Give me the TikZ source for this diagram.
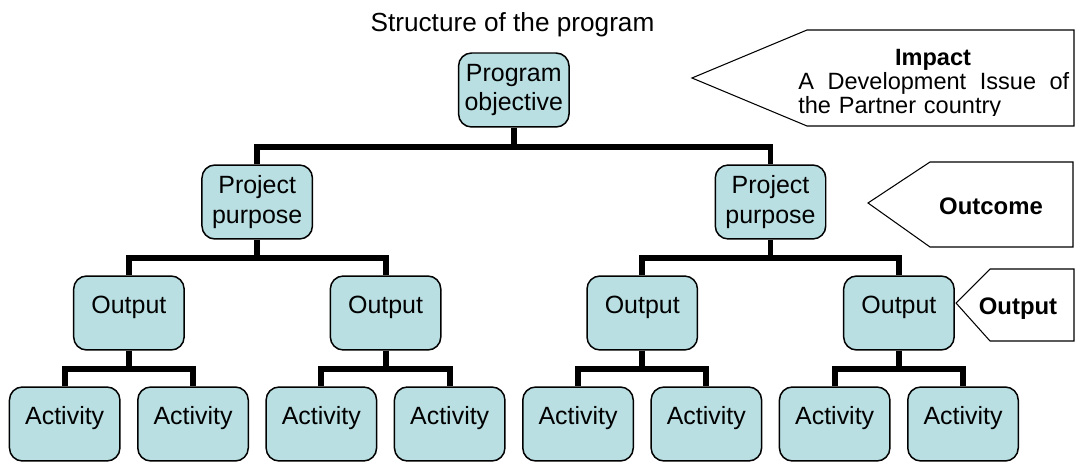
\documentclass[tikz,border=0pt]{standalone}
\usepackage{fontspec}
\setmainfont{Liberation Sans}
\usepackage{tikz}

\definecolor{boxfill}{RGB}{185,223,226}
\tikzset{
  box/.style={draw, fill=boxfill, line width=0.85pt, rounded corners=0.26cm, minimum width=2.21cm, minimum height=1.48cm, inner sep=0pt, font=\fontsize{14.2}{17}\selectfont},
  oneline/.style={box, text height=0.75cm, text depth=0.73cm},
  twoline/.style={box, align=center},
  conn/.style={line width=3.4pt},
  tag/.style={draw, fill=white, line width=0.6pt},
  tagtext/.style={font=\fontsize{13.6}{13.6}\selectfont\bfseries, anchor=base}
}

\begin{document}
\begin{tikzpicture}[x=0.02cm, y=-0.02cm]
    \useasboundingbox (0,0) rectangle (1075,462);
    \node[anchor=base, font=\fontsize{14.9}{18}\selectfont] (title) at (512.5,32) {Structure of the program}; % title
    \node[twoline] (obj) at (513.8,90) {Program\\objective}; % top
    \node[twoline] (pp1) at (257.2,202) {Project\\purpose};
    \node[twoline] (pp2) at (770.5,202) {Project\\purpose};
    \foreach \i in {1,...,4}
      \node[oneline] (out\i) at ({128.9+256.67*(\i-1)},313) {Output};
    \foreach \i in {1,...,8}
      \node[oneline] (act\i) at ({64.7+128.33*(\i-1)},424) {Activity};
    \draw[conn] (obj.south) -- ++(0,19) -| (pp1.north); % objective to purposes
    \draw[conn] (obj.south) -- ++(0,19) -| (pp2.north);
    \foreach \p/\a/\b in {pp1/out1/out2, pp2/out3/out4} {
      \draw[conn] (\p.south) -- ++(0,18.5) -| (\a.north); % purpose to outputs
      \draw[conn] (\p.south) -- ++(0,18.5) -| (\b.north);
    }
    \foreach \i/\a/\b in {1/1/2, 2/3/4, 3/5/6, 4/7/8} {
      \draw[conn] (out\i.south) -- ++(0,18.5) -| (act\a.north); % output to activities
      \draw[conn] (out\i.south) -- ++(0,18.5) -| (act\b.north);
    }
    \draw[tag] (692,78) -- (807,30) -- (1074,30) -- (1074,126) -- (807,126) -- cycle; % impact tag
    \node[tagtext, font=\fontsize{13.4}{13.4}\selectfont\bfseries] (impact) at (933,66) {Impact};
    \begin{scope}
      \clip (790,30) rectangle (1074,116);
      \node[anchor=base west, inner sep=0pt, text width=5.42cm, align=left, font=\fontsize{13.4}{13.3}\selectfont] (issue) at (798,90) {A\hfill Development\hfill Issue\hfill of\\the Partner country};
    \end{scope}
    \draw[tag] (868,203) -- (930,162) -- (1073,162) -- (1073,247) -- (930,247) -- cycle; % outcome tag
    \node[tagtext] (outcome) at (991,215) {Outcome};
    \draw[tag] (956,303) -- (990,269) -- (1074,269) -- (1074,341) -- (990,341) -- cycle; % output tag
    \node[tagtext] (outtag) at (1018,315) {Output};
\end{tikzpicture}
\end{document}
